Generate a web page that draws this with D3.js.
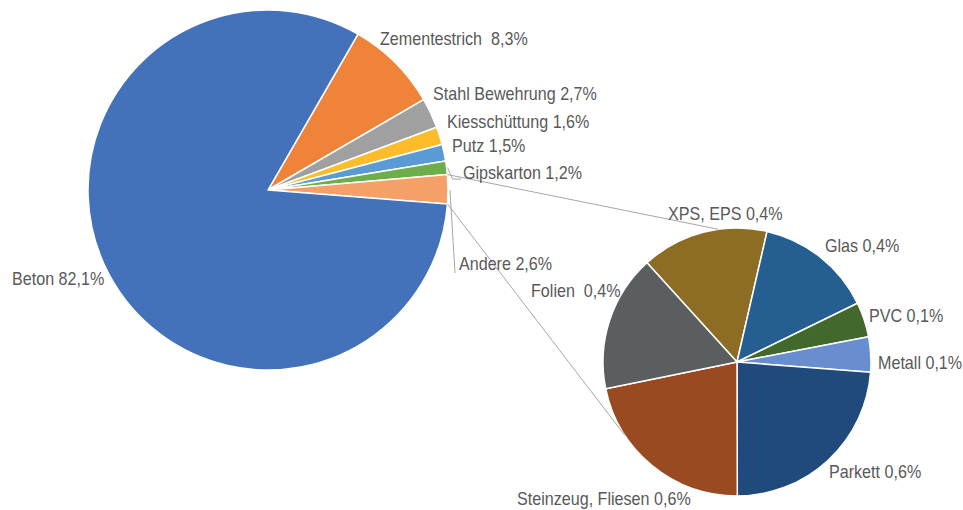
<!DOCTYPE html>
<html>
<head>
<meta charset="utf-8">
<script src="https://cdn.jsdelivr.net/npm/d3@7"></script>
<style>
  html, body { margin: 0; padding: 0; background: #ffffff; }
  svg { display: block; }
  text { font-family: "Liberation Sans", Arial, sans-serif; fill: #595959; white-space: pre; }
</style>
</head>
<body>
<svg id="chart" width="963" height="510"></svg>
<script>
// ---- data ----
const mainCategories = ["Zementestrich ", "Stahl Bewehrung", "Kiesschüttung", "Putz", "Gipskarton", "Andere", "Beton"];
const mainValues = [8.3, 2.7, 1.6, 1.5, 1.2, 2.6, 82.1];
const mainColors = ["#EF833A", "#A0A0A0", "#FDBD2B", "#5B9BD5", "#6DAE4B", "#F4A068", "#4372BA"];

const subCategories = ["XPS, EPS", "Glas", "PVC", "Metall", "Parkett", "Steinzeug, Fliesen", "Folien "];
const subValues = [0.40, 0.37, 0.11, 0.11, 0.62, 0.57, 0.43];
const subColors = ["#8C6D23", "#255E91", "#43682B", "#698ED0", "#1F4A7B", "#9A4A20", "#5A5E5F"];

// ---- layout ----
const W = 963, H = 510;
const main = { cx: 268, cy: 190, r: 180, start: 30 };
const sub = { cx: 737, cy: 362, r: 134, start: -42.2 };
const otherIndex = 5;

// label baseline positions (layout only)
const mainLabelPos = [[380, 45], [433, 100], [447, 128], [452, 152], [463, 179], [459, 270], [12, 285]];
const subLabelPos = [[668, 220], [825, 252], [869, 322], [878, 369], [829, 478], [517, 505], [531, 297]];
const connectorSubAngles = [-8, 236.7];
const fontSize = 18;
const textScaleX = 0.895;

const fmt = v => d3.format(".1f")(v).replace(".", ",") + "%";
const rad = d => d * Math.PI / 180;

const svg = d3.select("#chart");

function pt(c, angle, r) {
  return [c.cx + r * Math.sin(angle), c.cy - r * Math.cos(angle)];
}

// main pie
const mainPie = d3.pie().sort(null).value(d => d.v)
  .startAngle(rad(main.start)).endAngle(rad(main.start + 360));
const mainArcs = mainPie(mainValues.map((v, i) => ({ v, c: mainCategories[i], col: mainColors[i] })));
const mainArc = d3.arc().innerRadius(0).outerRadius(main.r);

const gMain = svg.append("g").attr("transform", `translate(${main.cx},${main.cy})`);
gMain.selectAll("path").data(mainArcs).join("path")
  .attr("d", mainArc)
  .attr("fill", d => d.data.col)
  .attr("stroke", "#ffffff")
  .attr("stroke-width", 1.5)
  .attr("stroke-linejoin", "round");

// sub pie
const subPie = d3.pie().sort(null).value(d => d.v)
  .startAngle(rad(sub.start)).endAngle(rad(sub.start + 360));
const subArcs = subPie(subValues.map((v, i) => ({ v, c: subCategories[i], col: subColors[i] })));
const subArc = d3.arc().innerRadius(0).outerRadius(sub.r);

const gSub = svg.append("g").attr("transform", `translate(${sub.cx},${sub.cy})`);
gSub.selectAll("path").data(subArcs).join("path")
  .attr("d", subArc)
  .attr("fill", d => d.data.col)
  .attr("stroke", "#ffffff")
  .attr("stroke-width", 1.5)
  .attr("stroke-linejoin", "round");

// connector lines from "Andere" slice to sub pie
const other = mainArcs[otherIndex];
const p1 = pt(main, other.startAngle, main.r);
const p2 = pt(main, other.endAngle, main.r);
const q1 = pt(sub, rad(connectorSubAngles[0]), sub.r);
const q2 = pt(sub, rad(connectorSubAngles[1]), sub.r);
svg.append("g").attr("stroke", "#A6A6A6").attr("stroke-width", 1).attr("fill", "none")
  .selectAll("line").data([[p1, q1], [p2, q2]]).join("line")
  .attr("x1", d => d[0][0]).attr("y1", d => d[0][1])
  .attr("x2", d => d[1][0]).attr("y2", d => d[1][1]);

// leader lines (Gipskarton, Andere)
const lead = svg.append("g").attr("stroke", "#A6A6A6").attr("stroke-width", 1).attr("fill", "none");
{
  const g = mainArcs[4];
  const a = pt(main, (g.startAngle + g.endAngle) / 2, main.r + 1);
  const lp = mainLabelPos[4];
  lead.append("polyline").attr("points", [a, [a[0] + 5, lp[1]], [lp[0] - 2, lp[1]]].map(p => p.join(",")).join(" "));
  const o = mainArcs[5];
  const b = pt(main, (o.startAngle + o.endAngle) / 2, main.r + 1);
  const lp2 = mainLabelPos[5];
  lead.append("line").attr("x1", b[0] + 1).attr("y1", b[1] + 1).attr("x2", lp2[0] - 4).attr("y2", lp2[1] + 3);
}

// labels
function drawLabels(arcs, pos) {
  svg.append("g").selectAll("text").data(arcs).join("text")
    .attr("transform", (d, i) => `translate(${pos[i][0]},${pos[i][1]}) scale(${textScaleX},1)`)
    .attr("font-size", fontSize)
    .text(d => d.data.c + " " + fmt(d.data.v));
}
drawLabels(mainArcs, mainLabelPos);
drawLabels(subArcs, subLabelPos);
</script>
</body>
</html>
